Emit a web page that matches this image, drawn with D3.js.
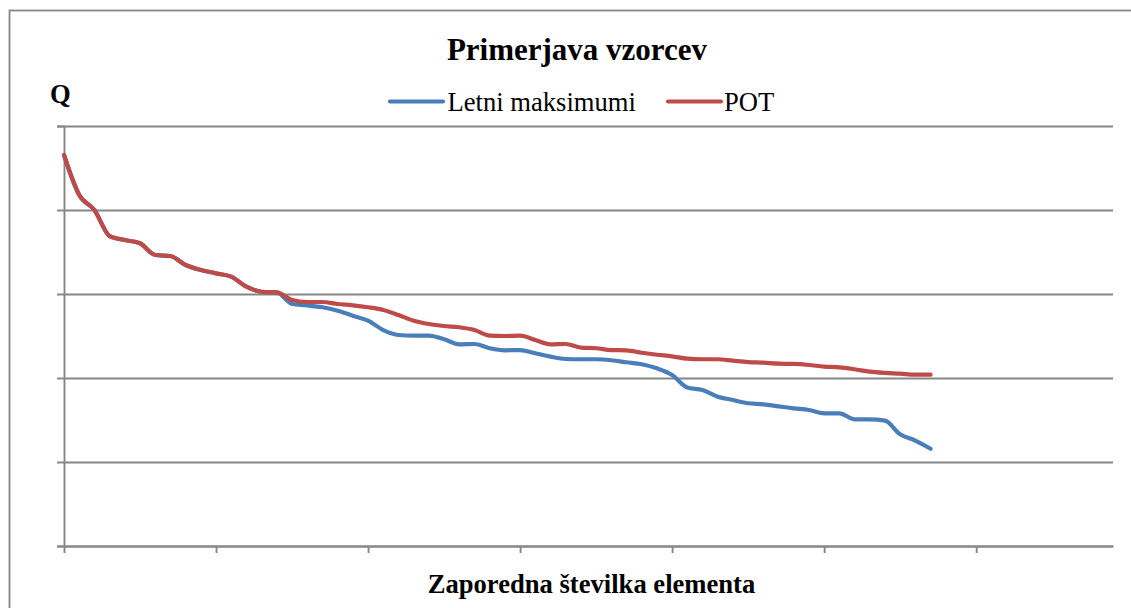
<!DOCTYPE html>
<html>
<head>
<meta charset="utf-8">
<script src="https://cdn.jsdelivr.net/npm/d3@7"></script>
<style>
  html, body { margin: 0; padding: 0; background: #fff; }
  svg { display: block; }
</style>
</head>
<body>
<svg id="chart" width="1131" height="608"></svg>
<script>
// ---- data (y units arbitrary, gridline step = 100) ----
const titleText = "Primerjava vzorcev";
const yTitle = "Q";
const xTitle = "Zaporedna številka elementa";
const seriesNames = ["Letni maksimumi", "POT"];
const seriesColors = ["#4A7EBB", "#BE4B48"];

const letniMaksimumi = [
  465.5, 417.9, 400.0, 369.0, 364.3, 360.4, 346.4, 345.2, 334.5, 328.6,
  324.6, 320.6, 308.7, 302.7, 302.0, 288.1, 286.5, 284.2, 280.1, 274.2,
  268.2, 257.1, 251.2, 250.4, 250.4, 246.1, 240.1, 240.5, 235.4, 233.0,
  233.3, 229.4, 225.4, 222.6, 222.3, 222.3, 221.1, 218.7, 216.3, 211.5,
  203.6, 188.7, 185.7, 177.7, 173.8, 169.9, 168.7, 166.3, 163.9, 161.9,
  158.0, 158.0, 150.8, 150.8, 149.2, 133.0, 125.4, 115.8
];
const pot = [
  465.5, 417.9, 400.0, 369.0, 364.3, 360.4, 346.4, 345.2, 334.5, 328.6,
  324.6, 320.6, 308.7, 302.7, 302.0, 292.9, 290.5, 290.5, 288.1, 286.5,
  284.2, 281.0, 275.0, 268.2, 264.3, 261.9, 260.4, 257.1, 250.4, 250.0,
  250.4, 245.2, 240.1, 240.5, 236.1, 235.4, 233.3, 233.0, 230.1, 227.7,
  225.8, 223.0, 222.3, 222.3, 220.6, 219.0, 218.2, 217.0, 216.7, 215.5,
  213.5, 212.7, 210.4, 207.5, 206.0, 205.1, 203.9, 203.9
];
const xMax = 69;                 // category axis length
const xTickValues = [0, 10, 20, 30, 40, 50, 60];
const yMax = 500;
const yTickValues = [0, 100, 200, 300, 400, 500];

// ---- layout ----
const svg = d3.select("#chart");
const plot = { left: 64, right: 1113, top: 126, bottom: 546 };
const gray = "#868686";
const serif = "'Liberation Serif', 'Times New Roman', serif";

const x = d3.scaleLinear().domain([0, xMax]).range([plot.left, plot.right]);
const y = d3.scaleLinear().domain([0, yMax]).range([plot.bottom, plot.top]);

// outer chart border (extends beyond the right/bottom edge like the reference)
svg.append("rect")
  .attr("x", 9.5).attr("y", 10.5)
  .attr("width", 1140).attr("height", 620)
  .attr("fill", "none").attr("stroke", gray).attr("stroke-width", 1.8);

// horizontal gridlines
const yAxis = d3.axisLeft(y)
  .tickValues(yTickValues)
  .tickSizeInner(-(plot.right - plot.left))
  .tickSizeOuter(0)
  .tickFormat("");
const gy = svg.append("g").attr("transform", `translate(${plot.left},0)`).call(yAxis);
gy.selectAll(".tick line").attr("stroke", gray).attr("stroke-width", 1.9);
gy.select(".domain").remove();
// small outward tick marks on the y axis
const yTicks = d3.axisLeft(y).tickValues(yTickValues).tickSize(7).tickFormat("");
const gy2 = svg.append("g").attr("transform", `translate(${plot.left},0)`).call(yTicks);
gy2.selectAll(".tick line").attr("stroke", gray).attr("stroke-width", 1.9);
gy2.select(".domain").attr("stroke", gray).attr("stroke-width", 1.9);

// x axis
const xAxis = d3.axisBottom(x).tickValues(xTickValues).tickSizeInner(7).tickSizeOuter(0).tickFormat("");
const gx = svg.append("g").attr("transform", `translate(0,${plot.bottom})`).call(xAxis);
gx.selectAll(".tick line").attr("stroke", gray).attr("stroke-width", 1.9);
gx.select(".domain").attr("stroke", gray).attr("stroke-width", 1.9);

// lines
const line = d3.line()
  .x((d, i) => x(i))
  .y(d => y(d))
  .curve(d3.curveMonotoneX);

[letniMaksimumi, pot].forEach((data, k) => {
  svg.append("path")
    .datum(data)
    .attr("fill", "none")
    .attr("stroke", seriesColors[k])
    .attr("stroke-width", 4.2)
    .attr("stroke-linejoin", "round")
    .attr("stroke-linecap", "round")
    .attr("d", line);
});

// title
svg.append("text")
  .attr("x", 577).attr("y", 60)
  .attr("text-anchor", "middle")
  .attr("font-family", serif).attr("font-weight", "bold")
  .attr("font-size", 31)
  .attr("fill", "#000")
  .text(titleText);

// y title
svg.append("text")
  .attr("x", 50).attr("y", 103)
  .attr("font-family", serif).attr("font-weight", "bold")
  .attr("font-size", 26.6)
  .attr("fill", "#000")
  .text(yTitle);

// x title
svg.append("text")
  .attr("x", 591.5).attr("y", 593)
  .attr("text-anchor", "middle")
  .attr("font-family", serif).attr("font-weight", "bold")
  .attr("font-size", 26.6)
  .attr("fill", "#000")
  .text(xTitle);

// legend
const legendItems = [
  { x1: 390, x2: 443, tx: 447.5 },
  { x1: 668, x2: 721, tx: 724 }
];
legendItems.forEach((it, k) => {
  svg.append("line")
    .attr("x1", it.x1).attr("x2", it.x2)
    .attr("y1", 101.5).attr("y2", 101.5)
    .attr("stroke", seriesColors[k]).attr("stroke-width", 4.2)
    .attr("stroke-linecap", "round");
  svg.append("text")
    .attr("x", it.tx).attr("y", 111)
    .attr("font-family", serif)
    .attr("font-size", 26.6)
    .attr("fill", "#000")
    .text(seriesNames[k]);
});
</script>
</body>
</html>
